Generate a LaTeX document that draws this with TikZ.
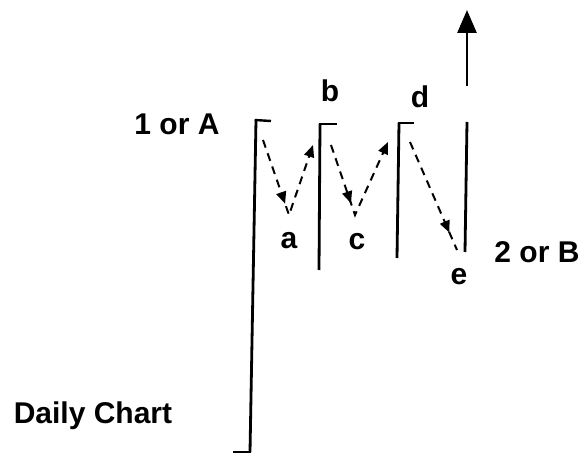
\documentclass[tikz,border=0pt]{standalone}
\usepackage{fontspec}
\setmainfont{Liberation Sans}
\usetikzlibrary{arrows.meta,decorations.markings}
\tikzset{
  bar/.style={line width=2.8pt, line cap=butt},
  tickline/.style={line width=2.4pt},
  lbl/.style={font=\fontsize{30}{32}\selectfont\bfseries, inner sep=0pt},
  dashline/.style={line width=2pt, dash pattern=on 8pt off 6pt},
  tipa/.style={-{Triangle[length=12pt,width=10pt]}},
  midtip/.style={postaction={decorate}, decoration={markings, mark=at position #1 with {\arrow{Triangle[length=12pt,width=10pt]}}}}
}
\begin{document}
\begin{tikzpicture}[x=1pt,y=-1pt]
\useasboundingbox (0,0) rectangle (584,454);
% bars
\coordinate (b1t) at (256,120); \coordinate (b1b) at (250,452);
\coordinate (b1r) at (271,121); \coordinate (b1l) at (233,452);
\coordinate (b2t) at (320,124); \coordinate (b2b) at (319,270); \coordinate (b2r) at (337,124);
\coordinate (b3t) at (399,123); \coordinate (b3b) at (397,258); \coordinate (b3r) at (414,123);
\coordinate (b4t) at (467,122); \coordinate (b4b) at (465,252);
\coordinate (ar0) at (467,86); \coordinate (ar1) at (467,10);
\draw[bar] (b1t) -- (b1b);
\draw[tickline] ([xshift=-1.4pt]b1t) -- (b1r);
\draw[line width=1.6pt] (b1l) -- ([xshift=1.4pt]b1b);
\draw[bar] (b2t) -- (b2b);
\draw[tickline] ([xshift=-1.4pt]b2t) -- (b2r);
\draw[bar] (b3t) -- (b3b);
\draw[tickline] ([xshift=-1.4pt]b3t) -- (b3r);
\draw[bar] (b4t) -- (b4b);
\draw[line width=2.8pt, -{Triangle[length=23pt,width=19pt]}] (ar0) -- (ar1);
% dashed moves
\coordinate (p1) at (263,140); \coordinate (p2) at (289,215); \coordinate (p3) at (313,145);
\coordinate (q1) at (331,145); \coordinate (q2) at (355,215); \coordinate (q3) at (388,142);
\coordinate (r1) at (410,142); \coordinate (r2) at (457,250);
\draw[dashline, tipa, midtip=0.44] (p1) -- (p2) -- (p3);
\draw[dashline, tipa, midtip=0.40] (q1) -- (q2) -- (q3);
\draw[dashline, midtip=0.84] (r1) -- (r2);
% labels
\node[lbl] (l1A) at (177,124) {1 or A};
\node[lbl] (lb) at (330,91) {b};
\node[lbl] (ld) at (420,97) {d};
\node[lbl] (la) at (289,241) {a};
\node[lbl] (lc) at (357,242) {c};
\node[lbl] (le) at (459,277) {e};
\node[lbl] (l2B) at (537,252) {2 or B};
\node[lbl] (ldc) at (93,416) {Daily Chart};
\end{tikzpicture}
\end{document}
